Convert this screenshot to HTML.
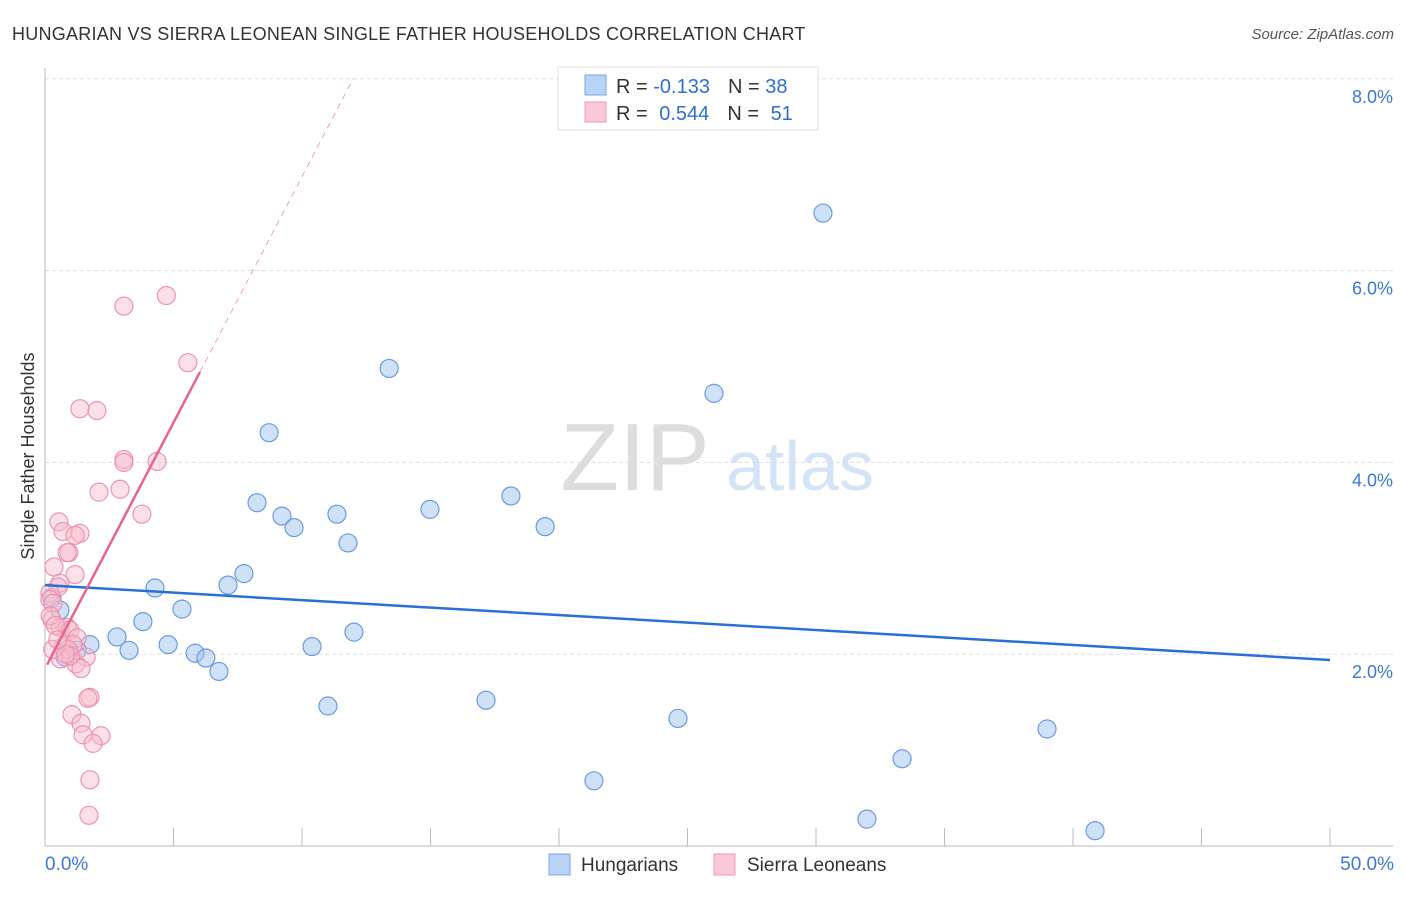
<!DOCTYPE html>
<html><head><meta charset="utf-8"><style>
body{margin:0;background:#fff;font-family:"Liberation Sans",sans-serif;}
svg text{font-family:"Liberation Sans",sans-serif;}
</style></head><body>
<svg width="1406" height="892" viewBox="0 0 1406 892">
<text x="12" y="40" font-size="18" letter-spacing="0.25" fill="#333">HUNGARIAN VS SIERRA LEONEAN SINGLE FATHER HOUSEHOLDS CORRELATION CHART</text>
<text x="1394" y="39" font-size="15" fill="#555" font-style="italic" text-anchor="end">Source: ZipAtlas.com</text>
<g>
<text x="635" y="490" font-size="96" fill="#ddd" text-anchor="middle" font-family="Liberation Serif,serif">ZIP</text>
<text x="800" y="490" font-size="70" fill="#d4e3f5" text-anchor="middle">atlas</text>
</g>
<g id="grid"></g>
<g id="axes"></g>
<g id="marks"></g>
<text transform="translate(34,456) rotate(-90)" font-size="18" fill="#333" text-anchor="middle">Single Father Households</text>
<g>
<rect x="558" y="67" width="260" height="63" fill="#fff" stroke="#ddd"/>
<rect x="585" y="75" width="21" height="20" fill="#b9d3f5" stroke="#7aa6e6"/>
<rect x="585" y="102" width="21" height="20" fill="#fac8d7" stroke="#ee9bb4"/>
<text x="616" y="93" font-size="20" fill="#333">R = <tspan fill="#2e6fd1">-0.133</tspan><tspan dx="18">N = </tspan><tspan fill="#2e6fd1">38</tspan></text>
<text x="616" y="120" font-size="20" fill="#333">R = <tspan fill="#2e6fd1" dx="6">0.544</tspan><tspan dx="18">N = </tspan><tspan fill="#2e6fd1" dx="6">51</tspan></text>
</g>
<g>
<rect x="549" y="854" width="21" height="21" fill="#b9d3f5" stroke="#7aa6e6"/>
<text x="581" y="871" font-size="19" fill="#333">Hungarians</text>
<rect x="714" y="854" width="21" height="21" fill="#fac8d7" stroke="#ee9bb4"/>
<text x="747" y="871" font-size="19" fill="#333">Sierra Leoneans</text>
</g>
</svg>
<script>
const yTicks=[2,4,6,8];
const yTickLabels=["2.0%","4.0%","6.0%","8.0%"];
const xEndLabels=["0.0%","50.0%"];
const hunX=[30.27,13.39,26.03,8.72,18.13,8.25,14.98,9.22,11.36,9.69,19.46,11.79,7.74,4.28,7.12,5.33,3.81,2.80,12.02,1.75,4.79,1.25,3.27,5.84,6.26,10.39,6.77,17.16,11.01,24.63,38.99,33.35,21.36,31.98,40.86,0.27,0.58,0.78];
const hunY=[6.60,4.98,4.72,4.31,3.65,3.58,3.51,3.44,3.46,3.32,3.33,3.16,2.84,2.69,2.72,2.47,2.34,2.18,2.23,2.10,2.10,2.04,2.04,2.01,1.96,2.08,1.82,1.52,1.46,1.33,1.22,0.91,0.68,0.28,0.16,2.59,2.46,1.97];
const sieX=[4.72,3.07,5.56,1.36,2.02,3.07,3.07,4.36,2.10,2.92,3.77,0.54,0.70,1.36,1.17,0.93,0.86,0.35,1.17,0.58,0.51,0.19,0.19,0.31,0.27,0.58,0.86,0.97,1.25,0.70,1.09,1.60,1.75,1.67,1.05,1.40,1.48,2.18,1.87,1.75,0.2,0.4,0.9,0.6,1.2,0.3,1.0,0.8,0.5,1.4,1.71];
const sieY=[5.74,5.63,5.04,4.56,4.54,4.03,4.00,4.01,3.69,3.72,3.46,3.38,3.28,3.26,3.24,3.06,3.06,2.91,2.83,2.74,2.70,2.64,2.57,2.53,2.36,2.28,2.28,2.25,2.17,2.08,2.10,1.97,1.55,1.54,1.37,1.28,1.16,1.15,1.07,0.69,2.40,2.30,2.05,1.95,1.90,2.05,1.98,2.00,2.15,1.85,0.32];
const hunTrend=[2.72,1.94];
const sieTrend=[1.85,0.513];
const X=v=>45+v*25.7, Y=v=>846-v*95.9;
const NS="http://www.w3.org/2000/svg";
function mk(parent,tag,attrs){const e=document.createElementNS(NS,tag);for(const k in attrs)e.setAttribute(k,attrs[k]);document.getElementById(parent).appendChild(e);return e;}
yTicks.forEach((t,i)=>{
 const g=mk('grid','line',{x1:45,x2:1393,y1:Y(t),y2:Y(t),stroke:'#ddd','stroke-dasharray':'4,3'});
 
 
 const l=mk('grid','text',{x:1393,y:Y(t)+24,'font-size':18,fill:'#3b78d8','text-anchor':'end'});
 l.textContent=yTickLabels[i];
 
 
});
const ax=mk('axes','line',{x1:45,x2:45,y1:68,y2:846,stroke:'#bbb'});


const bx=mk('axes','line',{x1:45,x2:1393,y1:846,y2:846,stroke:'#bbb'});


for(let v=5;v<=50;v+=5){
 const t=mk('axes','line',{x1:X(v),x2:X(v),y1:828,y2:846,stroke:'#bbb'});
 
 
}
[[0,'start'],[50,'middle']].forEach((p,i)=>{
 const l=mk('axes','text',{x:i?X(p[0])+64:45,y:870,'font-size':19,fill:'#3b78d8','text-anchor':i?'end':'start'});
 l.textContent=xEndLabels[i];
 
 
});
hunX.forEach((x,i)=>{
 const c=mk('marks','circle',{cx:X(x),cy:Y(hunY[i]),r:9,fill:'rgba(160,196,240,0.5)',stroke:'#6a9be0','stroke-width':1.2});
 
 
});
sieX.forEach((x,i)=>{
 const c=mk('marks','circle',{cx:X(x),cy:Y(sieY[i]),r:9,fill:'rgba(248,186,205,0.45)',stroke:'#ec93b0','stroke-width':1.2});
 
 
});
const ht=mk('marks','line',{x1:X(0),y1:Y(hunTrend[0]),x2:X(50),y2:Y(hunTrend[1]),stroke:'#2a6fd6','stroke-width':2.5});


const sf=v=>sieTrend[0]+sieTrend[1]*v;
const st=mk('marks','line',{x1:X(0.08),y1:Y(sf(0.08)),x2:X(6.03),y2:Y(sf(6.03)),stroke:'#e8638e','stroke-width':2.5});


const xe=(8-sieTrend[0])/sieTrend[1];
const sd=mk('marks','line',{x1:X(6.03),y1:Y(sf(6.03)),x2:X(xe),y2:Y(8),stroke:'#e8a0b8','stroke-width':1,'stroke-dasharray':'6,5'});


</script>
</body></html>
